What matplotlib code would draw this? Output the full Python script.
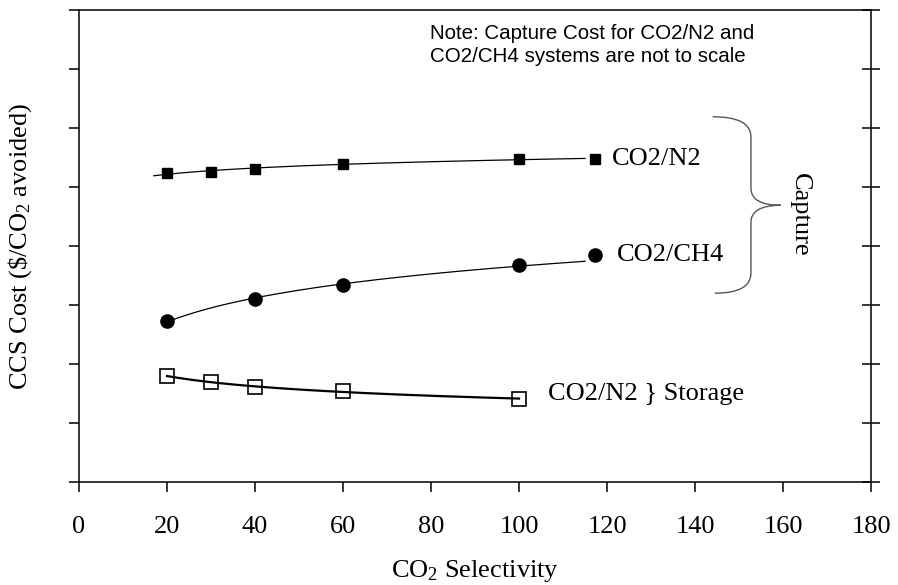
import numpy as np
import matplotlib
matplotlib.use("Agg")
import matplotlib.pyplot as plt
from matplotlib.path import Path
from matplotlib.patches import PathPatch

plt.rcParams['font.family'] = ['Liberation Serif', 'DejaVu Serif']
plt.rcParams['mathtext.fontset'] = 'custom'
plt.rcParams['mathtext.rm'] = 'Liberation Serif'

# selectivity values and CCS cost (arbitrary units, axis unlabeled)
sel_n2 = [20, 30, 40, 60, 100]
cost_n2 = [5.24, 5.25, 5.31, 5.39, 5.47]

sel_ch4 = [20, 40, 60, 100]
cost_ch4 = [2.73, 3.10, 3.34, 3.68]

sel_store = [20, 30, 40, 60, 100]
cost_store = [1.80, 1.69, 1.61, 1.54, 1.41]

# label markers next to the curves
key_x = 117.3
key_n2 = 5.47
key_ch4 = 3.85

xticks = [0, 20, 40, 60, 80, 100, 120, 140, 160, 180]

fig = plt.figure(figsize=(8.98, 5.85), dpi=100)
ax = fig.add_axes([0.088, 0.176, 0.882, 0.807])

# log trend lines through each series
def trend(x, y, x0, x1, deg=1):
    c = np.polyfit(np.log(x), y, deg)
    xs = np.linspace(x0, x1, 200)
    return xs, np.polyval(c, np.log(xs))

xs, ys = trend(sel_n2, cost_n2, 17, 115)
ax.plot(xs, ys, color='black', lw=0.9)
ax.plot(sel_n2, cost_n2, 's', color='black', ms=7.5, ls='none')
ax.plot([key_x], [key_n2], 's', color='black', ms=7.5)

xs, ys = trend(sel_ch4, cost_ch4, 20, 115)
ax.plot(xs, ys, color='black', lw=0.9)
ax.plot(sel_ch4, cost_ch4, 'o', color='black', ms=9.5, ls='none')
ax.plot([key_x], [key_ch4], 'o', color='black', ms=9.5)

xs, ys = trend(sel_store, cost_store, 20, 100, deg=2)
ax.plot(xs, ys, color='black', lw=1.6)
ax.plot(sel_store, cost_store, 's', mfc='none', mec='black', mew=1.2,
        ms=10.5, ls='none')

ax.text(121, key_n2, 'CO2/N2', fontsize=19, va='center', ha='left')
ax.text(122.3, key_ch4, 'CO2/CH4', fontsize=19, va='center', ha='left')
ax.text(106.6, 1.49, 'CO2/N2 } Storage', fontsize=19, va='center', ha='left')

ax.text(79.8, 7.76, 'Note: Capture Cost for CO2/N2 and\nCO2/CH4 systems are not to scale',
        fontsize=14.8, family=['Liberation Sans', 'DejaVu Sans'], va='top',
        ha='left', linespacing=1.27)

# curly brace grouping the two capture curves
bx, tip = 152.7, 159.5
verts = [(144.0, 6.19), (bx, 6.19), (bx, 5.85),
         (bx, 4.98),
         (bx, 4.69), (tip, 4.69),
         (bx, 4.69), (bx, 4.40),
         (bx, 3.54),
         (bx, 3.20), (144.5, 3.20)]
codes = [Path.MOVETO, Path.CURVE3, Path.CURVE3,
         Path.LINETO,
         Path.CURVE3, Path.CURVE3,
         Path.CURVE3, Path.CURVE3,
         Path.LINETO,
         Path.CURVE3, Path.CURVE3]
ax.add_patch(PathPatch(Path(verts, codes), fill=False, ec='#555555', lw=1.0,
                       clip_on=False))
ax.text(163.9, 4.53, 'Capture', fontsize=19, rotation=270,
        va='center', ha='center')

ax.set_xlim(0, 180)
ax.set_ylim(0, 8)
ax.set_xticks(xticks)
ax.set_yticks(range(0, 9))
ax.set_yticklabels([])
ax.tick_params(axis='x', direction='out', length=7.2, width=1.1,
               labelsize=19, pad=17)
ax.tick_params(axis='y', direction='out', length=7.2, width=1.1,
               right=True)
for t in ax.yaxis.get_major_ticks():
    t.tick2line.set_marker('_')
    t.tick2line.set_markersize(13)
    t.tick2line.set_markeredgewidth(1.1)
for s in ax.spines.values():
    s.set_linewidth(1.1)

ax.set_xlabel('CO$\\mathregular{_2}$ Selectivity', fontsize=19, labelpad=15)
ax.set_ylabel('CCS Cost (\\$/CO$\\mathregular{_2}$ avoided)', fontsize=19,
              labelpad=22)

fig.savefig('out.png', dpi=100)
